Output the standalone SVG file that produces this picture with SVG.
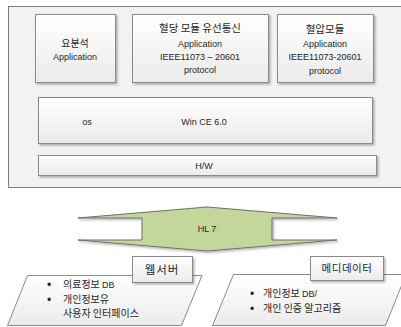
<svg xmlns="http://www.w3.org/2000/svg" width="401" height="327" viewBox="0 0 401 327">
<defs>
<linearGradient id="g" x1="0" y1="0" x2="0" y2="1">
<stop offset="0" stop-color="#ffffff"/>
<stop offset="1" stop-color="#ebebeb"/>
</linearGradient>
<filter id="sh" x="-10%" y="-10%" width="130%" height="140%">
<feDropShadow dx="1.5" dy="1.5" stdDeviation="1" flood-color="#000" flood-opacity="0.3"/>
</filter>
<style>
.box{fill:url(#g);stroke:#8a8a8a;stroke-width:1;filter:url(#sh)}
.t{font-family:"Liberation Sans","Noto Sans CJK KR",sans-serif;font-size:9px;fill:#262626;text-anchor:middle}
.k{font-family:"Noto Sans CJK KR","Liberation Sans",sans-serif;fill:#262626}
.l{font-family:"Liberation Sans","Noto Sans CJK KR",sans-serif;font-size:12px;fill:#262626}
</style>
</defs>
<rect width="401" height="327" fill="#ffffff"/>
<g id="device">
<rect x="8.5" y="6.5" width="400" height="181" fill="#f2f2f2" stroke="#7f7f7f" stroke-width="1"/>
</g>
<g id="app1">
<rect class="box" x="35.5" y="14.5" width="80" height="68"/>
<text class="k" x="75" y="47" font-size="10" text-anchor="middle">요분석</text>
<text class="t" x="75" y="60">Application</text>
</g>
<g id="app2">
<rect class="box" x="132.5" y="14.5" width="136" height="68"/>
<text class="k" x="200" y="32" font-size="10.5" text-anchor="middle">혈당 모듈 유선통신</text>
<text class="t" x="200" y="47">Application</text>
<text class="t" x="200" y="60">IEEE11073 – 20601</text>
<text class="t" x="200" y="73">protocol</text>
</g>
<g id="app3">
<rect class="box" x="277.5" y="14.5" width="96" height="68"/>
<text class="k" x="325" y="33" font-size="10.5" text-anchor="middle">혈압모듈</text>
<text class="t" x="325" y="47">Application</text>
<text class="t" x="325" y="60">IEEE11073-20601</text>
<text class="t" x="325" y="74">protocol</text>
</g>
<g id="os">
<rect class="box" x="38.5" y="97.5" width="334" height="46"/>
<text class="t" x="87" y="125">os</text>
<text class="t" x="204" y="125">Win CE 6.0</text>
</g>
<g id="hw">
<rect class="box" x="38.5" y="155.5" width="338" height="20"/>
<text class="t" x="204" y="169">H/W</text>
</g>
<g id="hl7">
<path d="M78,218 L207,207 L337,218 L272,218 L272,240 L337,240 L207,251 L78,240 L142,240 L142,218 Z" fill="#c3d69b" stroke="#6f6f6f" stroke-width="1" stroke-linejoin="miter" filter="url(#sh)"/>
<text class="t" x="207" y="232">HL 7</text>
</g>
<g id="webserver">
<path d="M27.5,275.5 L202,275.5 L181.5,325.5 L7.5,325.5 Z" fill="url(#g)" stroke="#8a8a8a" stroke-width="1"/>
<rect class="box" x="132.5" y="256.5" width="60" height="26"/>
<text class="k" x="162" y="274" font-size="11.5" letter-spacing="1" text-anchor="middle">웹서버</text>
<text class="l" x="47" y="289">•</text>
<text class="k" x="63" y="288" font-size="10">의료정보 <tspan font-family="Liberation Sans" font-size="9">DB</tspan></text>
<text class="l" x="47" y="304">•</text>
<text class="k" x="63" y="303" font-size="10">개인정보유</text>
<text class="k" x="63" y="317" font-size="10">사용자 인터페이스</text>
</g>
<g id="mediator">
<path d="M233.5,274.5 L406,274.5 L385.5,325.5 L212.5,325.5 Z" fill="url(#g)" stroke="#8a8a8a" stroke-width="1"/>
<rect class="box" x="310.5" y="256.5" width="73" height="24"/>
<text class="k" x="347" y="272" font-size="10.5" letter-spacing="0.5" text-anchor="middle">메디데이터</text>
<text class="l" x="250" y="298">•</text>
<text class="k" x="263" y="297" font-size="10">개인정보 <tspan font-family="Liberation Sans" font-size="9">DB/</tspan></text>
<text class="l" x="250" y="313">•</text>
<text class="k" x="263" y="312" font-size="10">개인 인증 알고리즘</text>
</g>
<g id="connectors"></g>
</svg>
